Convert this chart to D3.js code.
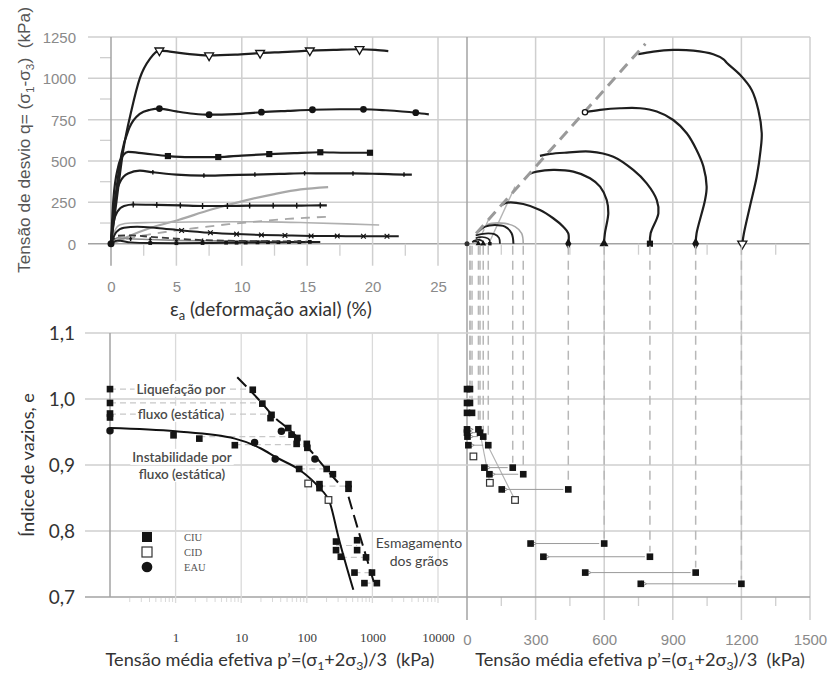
<!DOCTYPE html>
<html><head><meta charset="utf-8">
<script src="https://cdn.jsdelivr.net/npm/d3@7"></script>
<style>
body{margin:0;background:#fff}
svg{display:block;background:#fff}
text{white-space:pre}
</style></head><body>
<svg id="chart" width="831" height="674"></svg>
<script>
// ---------- axis ticks ----------
const strainTicks = [0, 5, 10, 15, 20, 25];
const strainMinor = [2.5, 7.5, 12.5, 17.5, 22.5];
const qTicks = [0, 250, 500, 750, 1000, 1250];
const qMinor = [125, 375, 625, 875, 1125];
const pTicks = [0, 300, 600, 900, 1200, 1500];
const pMinor = [150, 450, 750, 1050, 1350];
const eTicks = [0.7, 0.8, 0.9, 1.0, 1.1];
const logTicks = [1, 10, 100, 1000, 10000];

// ---------- stress–strain curves: [axial strain %, q kPa, marker flag] ----------
const curve1200 = [[0,0],[0.43,264],[0.94,567],[1.57,809],[2.2,1000],[3,1121],[3.7,1168,1],[4.5,1162],[6,1146],[7.5,1138,1],[9.5,1143],[11.4,1153,1],[13.5,1160],[15.2,1168,1],[17,1172],[19,1176,1],[20.2,1172],[21.2,1165]];
const curve1000 = [[0,0],[0.3,250],[0.8,540],[1.4,700],[2.2,785],[3,810],[3.7,817,1],[5,800],[6.3,786],[7.5,780,1],[9.5,784],[11.5,795,1],[13.5,803],[15.4,810,1],[17.5,813],[19.3,813,1],[21,807],[23.3,792,1],[24.3,782]];
const curve800 = [[0,0],[0.18,264],[0.55,466],[0.94,536],[1.3,555],[2.5,546],[4.35,530,1],[6,524],[8.2,524,1],[10,533],[12.1,542,1],[14,548],[16,553,1],[18,550],[19.8,550,1]];
const curve600 = [[0,0],[0.3,264],[0.7,375],[1.3,425],[2.2,442],[3.2,432,1],[5,418],[7.1,412,1],[9,415],[11,418,1],[13,422],[14.8,426,1],[16.5,425],[18.5,425,1],[20.5,422],[22.4,418,1],[23,418]];
const curve443 = [[0,0],[0.2,130],[0.5,195],[1,228],[1.7,237,1],[3.5,235,1],[5.3,232,1],[7,228,1],[8.9,228,1],[10.6,230,1],[12.4,230,1],[14.2,230,1],[16,232,1],[16.5,232]];
const curveCidA = [[0,0],[0.7,22],[1.5,50],[3,95],[5.2,145],[7.6,205],[10.3,262],[12.5,300],[14.5,328],[16.6,342]];
const curve246 = [[0,0],[0.3,80],[0.7,115],[1.5,125],[3,128],[5,130],[9,133],[12,132],[15,127],[18,120],[20.5,113]];
const curveCidB = [[0,0],[1,25],[2.5,50],[4.5,75],[6.5,95],[9,118],[11.6,137],[13.5,150],[15,157],[16.5,163]];
const curve200 = [[0,0],[0.4,70],[1,97],[2,103],[3.5,95],[5.4,80,1],[7.6,66,1],[9.6,58,1],[11.5,53,1],[13.3,50,1],[15.3,47,1],[17.3,46,1],[19.3,45,1],[21.1,45,1],[22,45]];
const curve144 = [[0,0],[0.5,48],[1.5,50],[3,42],[5,30],[7,22],[9,18],[12,15],[15,13]];
const curve71 = [[0,0],[0.5,20],[1.5,8],[3,4,1],[5,3,1],[7,4,1],[8.8,6,1],[9.6,6,1],[10.3,7,1],[11.2,8,1],[12,9,1],[12.8,9,1],[13.6,10,1],[14.4,10,1],[15.2,11,1],[16,11]];
const curve100 = [[0,0],[0.5,35],[1.5,30,1],[3,25,1],[5,20,1],[7,18,1],[9,17],[11,16],[12,16]];

// ---------- effective stress paths: [p' kPa, q kPa] ----------
const path1200 = [[1204,0],[1211,63],[1237,224],[1267,405],[1284,567],[1289,668],[1274,809],[1245,930],[1194,1021],[1138,1091],[1122,1115],[1077,1146],[990,1168],[902,1172],[815,1162],[749,1146]];
const path1000 = [[1000,0],[1004,63],[1041,264],[1048,345],[1034,466],[1004,567],[961,668],[902,748],[830,799],[757,819],[669,819],[582,809],[516,795]];
const path800 = [[800,0],[803,63],[837,184],[830,264],[786,365],[727,446],[640,526],[538,557],[436,551],[363,543],[319,531]];
const path600 = [[599,0],[603,63],[618,184],[611,264],[582,345],[538,396],[465,436],[377,446],[305,436],[272,422]];
const path443 = [[443,0],[443,63],[421,103],[377,154],[319,204],[246,240],[174,248],[152,234]];
const path246 = [[246,0],[239,63],[210,103],[166,123],[108,123],[86,113]];
const path200 = [[203,0],[195,63],[166,103],[122,113],[79,103],[50,73]];
const path144 = [[144,0],[140,35],[120,58],[93,63],[62,58],[38,50]];
const path100 = [[100,0],[97,25],[80,38],[58,40],[38,33]];
const path71 = [[71,0],[68,15],[55,23],[40,22],[26,15]];
const path50 = [[50,0],[46,10],[35,14],[22,10]];
const pathCidA = [[95,0],[210,345]];
const pathCidB = [[46,0],[100,163]];
const criticalLine = [[40,62],[780,1209]];

// ---------- void ratio vs p' (log axis) ----------
const ciuLog = [[0,1.015],[0,0.994],[0,0.978],[0,0.972],[15,1.014],[21,0.993],[29,0.976],[28,0.971],
  [0.93,0.945],[2.3,0.940],[8,0.930],[52,0.956],[58.5,0.946],[71.6,0.941],[70,0.932],[100,0.932],[102,0.926],
  [76.5,0.894],[201,0.894],[250,0.886],[156,0.871],[156,0.865],[432,0.871],[432,0.864],
  [279,0.784],[279,0.771],[330,0.761],[585,0.786],[585,0.771],[800,0.760],
  [533,0.737],[985,0.737],[756,0.721],[1170,0.721]];
const cidLog = [[105,0.872],[214,0.847]];
const eauLog = [[0,0.952],[16,0.934],[33,0.909],[41,0.951],[133,0.909]];
const logLinks = [[0,15,1.015],[0,21,0.994],[0,29,0.977],[2.3,58.5,0.943],[8,100,0.931],[76.5,201,0.894],[156,432,0.868],[279,585,0.778],[330,800,0.760],[533,985,0.737],[756,1170,0.721]];
const instabilityLine = [[0.1,0.956],[1,0.951],[8,0.940],[20,0.925],[35,0.911],[79,0.892],[150,0.867],[226,0.842],[303,0.791],[512,0.711]];
const crushingUpper = [[8.7,1.033],[21,0.993],[30,0.975],[52,0.955],[100,0.928],[200,0.893],[322,0.870]];
const crushingLower = [[432,0.852],[585,0.807],[800,0.762],[1100,0.716]];

// ---------- void ratio vs p' (linear axis): undrained tests, initial p0 -> final pf ----------
const ciuTests = [
  {p0:1200, pf:760, e:0.720}, {p0:1000, pf:517, e:0.737}, {p0:800, pf:334, e:0.761},
  {p0:600, pf:278, e:0.781}, {p0:443, pf:152, e:0.863}, {p0:246, pf:98, e:0.886},
  {p0:200, pf:76, e:0.896}, {p0:93, pf:6, e:0.930}, {p0:71, pf:2, e:0.943},
  {p0:57, pf:0, e:0.949}, {p0:50, pf:0, e:0.954}, {p0:22, pf:0, e:0.979},
  {p0:13, pf:0, e:0.994}, {p0:13, pf:0, e:1.015}];
const cidLin = [[28,0.913],[100,0.873],[210,0.847]];
const cidLinks = [[[71,0.943],[210,0.847]],[[57,0.949],[100,0.873]]];

// ---------- scales ----------
const xStrain = d3.scaleLinear().domain([0,25]).range([111,438]);
const yQ = d3.scaleLinear().domain([0,1250]).range([243.7,37]);
const xP = d3.scaleLinear().domain([0,1500]).range([467,810]);
const xLog = d3.scaleLog().domain([0.1,10000]).range([110,438]).clamp(true);
const yE = d3.scaleLinear().domain([0.7,1.1]).range([597,333]);

const svg = d3.select('#chart');
const defs = svg.append('defs');
defs.append('marker').attr('id','arr').attr('viewBox','0 0 10 10').attr('refX',1).attr('refY',5)
  .attr('markerWidth',7).attr('markerHeight',7).attr('orient','auto')
  .append('path').attr('d','M9,1L1,5L9,9').attr('fill','none').attr('stroke','#8a8a8a').attr('stroke-width',1.4);

const GRID = '#cfcfcf', AXIS = '#a3a3a3';
const grid = svg.append('g');
function hline(g, y, x1, x2, c, w){ return g.append('line').attr('x1',x1).attr('x2',x2).attr('y1',y).attr('y2',y).attr('stroke',c).attr('stroke-width',w); }
function vline(g, x, y1, y2, c, w){ return g.append('line').attr('x1',x).attr('x2',x).attr('y1',y1).attr('y2',y2).attr('stroke',c).attr('stroke-width',w); }

// top row grid
qTicks.forEach(q => hline(grid, yQ(q), 88, xP(1500), q===0?AXIS:GRID, 1.5));
qMinor.forEach(q => hline(grid, yQ(q), 100, xStrain(0), GRID, 1.3));
strainTicks.forEach(s => vline(grid, xStrain(s), yQ(1250), yQ(0)+22, s===0?AXIS:GRID, 1.5));
strainMinor.forEach(s => vline(grid, xStrain(s), yQ(0), yQ(0)+12, GRID, 1.3));
pTicks.forEach(p => vline(grid, xP(p), yQ(1250), yE(0.7)+23, p===0?AXIS:GRID, 1.5));
pMinor.forEach(p => { vline(grid, xP(p), yQ(0), yQ(0)+11, GRID, 1.3); vline(grid, xP(p), yE(0.7), yE(0.7)+9, GRID, 1.3); });
// bottom row grid
eTicks.forEach(e => hline(grid, yE(e), 85, xP(1500), e===0.7?AXIS:GRID, 1.5));
logTicks.forEach(p => vline(grid, xLog(p), yE(1.1), yE(0.7)+6, '#dadada', 1.3));
vline(grid, xLog(0.1), yE(1.1), yE(0.7), AXIS, 1.5);
[0.1,1,10,100,1000].forEach(d => [2,3,4,5,6,7,8,9].forEach(k => vline(grid, xLog(d*k), yE(0.7)+1, yE(0.7)+5, '#d8d8d8', 1)));

// ---------- tick labels ----------
const tickFont = 'Liberation Sans, Arial, sans-serif';
const plain = d3.format('d');
const yAxisQ = svg.append('g').attr('transform',`translate(${xStrain(0)-35},0)`)
  .call(d3.axisLeft(yQ).tickValues(qTicks).tickSize(0).tickPadding(0).tickFormat(plain));
const xAxisS = svg.append('g').attr('transform',`translate(0,287)`)
  .call(d3.axisBottom(xStrain).tickValues(strainTicks).tickSize(0).tickPadding(0).tickFormat(plain));
const xAxisP = svg.append('g').attr('transform',`translate(0,640)`)
  .call(d3.axisBottom(xP).tickValues(pTicks).tickSize(0).tickPadding(0).tickFormat(plain));
[yAxisQ, xAxisS, xAxisP].forEach(a => {
  a.select('.domain').remove();
  a.selectAll('text').attr('font-family',tickFont).attr('font-size',15).attr('fill','#8a8a8a');
});
xAxisS.selectAll('text').attr('y',0).attr('dy','0.36em');
xAxisP.selectAll('text').attr('y',0).attr('dy','0.36em');
yAxisQ.selectAll('text').attr('dy','0.36em');

const yAxisE = svg.append('g').attr('transform',`translate(75,0)`)
  .call(d3.axisLeft(yE).tickValues(eTicks).tickSize(0).tickPadding(0).tickFormat(d => d.toFixed(1).replace('.',',')));
yAxisE.select('.domain').remove();
yAxisE.selectAll('text').attr('font-family','Lato, sans-serif').attr('font-size',19).attr('fill','#333').attr('dy','0.36em');

const xAxisL = svg.append('g').attr('transform',`translate(0,637)`)
  .call(d3.axisBottom(xLog).tickValues(logTicks).tickSize(0).tickPadding(0).tickFormat(plain));
xAxisL.select('.domain').remove();
xAxisL.selectAll('text').attr('font-family','Liberation Serif, serif').attr('font-size',13).attr('fill','#3c3c3c').attr('y',0).attr('dy','0.36em');

// ---------- titles ----------
function rich(parts, attrs){
  const t = svg.append('text');
  Object.entries(attrs).forEach(([k,v]) => t.attr(k,v));
  let low = false;
  parts.forEach(([s,sub]) => {
    const ts = t.append('tspan').text(s);
    if (sub) { ts.attr('font-size','68%'); if(!low){ ts.attr('dy','0.3em'); low = true; } }
    else if (low) { ts.attr('dy','-0.204em'); low = false; }
  });
  return t;
}
function fit(t, w){
  const cur = t.node().getComputedTextLength();
  t.attr('font-size', parseFloat(t.attr('font-size')) * w / cur);
}
const sansT = 'Lato, Open Sans, sans-serif';
fit(rich([['Tensão de desvio q= (σ'],['1',1],['-σ'],['3',1],[')  (kPa)']],
  {'font-family':tickFont,'font-size':16,fill:'#555','text-anchor':'middle',transform:'translate(30,140) rotate(-90)'}), 266);
fit(rich([['ε'],['a',1],[' (deformação axial) (%)']],
  {'font-family':sansT,'font-size':17,fill:'#333','text-anchor':'middle',x:271,y:316}), 202);
fit(rich([['Índice de vazios, e']],
  {'font-family':sansT,'font-size':17,fill:'#333','text-anchor':'middle',transform:'translate(34,465) rotate(-90)'}), 144);
fit(rich([['Tensão média efetiva p’=(σ'],['1',1],['+2σ'],['3',1],[')/3  (kPa)']],
  {'font-family':sansT,'font-size':17,fill:'#333','text-anchor':'middle',x:270,y:666}), 329);
fit(rich([['Tensão média efetiva p’=(σ'],['1',1],['+2σ'],['3',1],[')/3  (kPa)']],
  {'font-family':sansT,'font-size':17,fill:'#333','text-anchor':'middle',x:640,y:666}), 330);

// ---------- symbols ----------
const tickSym = {draw(ctx,size){const h=Math.sqrt(size)/2; ctx.moveTo(0,-h); ctx.lineTo(0,h); ctx.moveTo(-h*0.6,0); ctx.lineTo(h*0.6,0);}};
const xSym = {draw(ctx,size){const h=Math.sqrt(size)/2; ctx.moveTo(-h,-h); ctx.lineTo(h,h); ctx.moveTo(-h,h); ctx.lineTo(h,-h);}};
function mark(g, type, x, y, size){
  const K = '#141414';
  const r = Math.sqrt(size/Math.PI), a = Math.sqrt(size);
  if (type==='triDown') return g.append('path').attr('d', d3.symbol().type(d3.symbolTriangle).size(size)()).attr('transform',`translate(${x},${y}) rotate(180)`).attr('fill','#fff').attr('stroke',K).attr('stroke-width',1.3);
  if (type==='dot') return g.append('circle').attr('cx',x).attr('cy',y).attr('r',r).attr('fill',K);
  if (type==='ring') return g.append('circle').attr('cx',x).attr('cy',y).attr('r',r).attr('fill','#fff').attr('stroke',K).attr('stroke-width',1.3);
  if (type==='square') return g.append('rect').attr('x',x-a/2).attr('y',y-a/2).attr('width',a).attr('height',a).attr('fill',K);
  if (type==='squareOpen') return g.append('rect').attr('x',x-a/2).attr('y',y-a/2).attr('width',a).attr('height',a).attr('fill','#fff').attr('stroke','#333').attr('stroke-width',1.2);
  if (type==='diamond') return g.append('path').attr('d', d3.symbol().type(d3.symbolDiamond).size(size)()).attr('transform',`translate(${x},${y})`).attr('fill',K);
  if (type==='tri') return g.append('path').attr('d', d3.symbol().type(d3.symbolTriangle).size(size)()).attr('transform',`translate(${x},${y})`).attr('fill',K);
  if (type==='plus') return g.append('path').attr('d', d3.symbol().type(tickSym).size(size)()).attr('transform',`translate(${x},${y})`).attr('fill','none').attr('stroke',K).attr('stroke-width',1.4);
  if (type==='times') return g.append('path').attr('d', d3.symbol().type(xSym).size(size)()).attr('transform',`translate(${x},${y})`).attr('fill','none').attr('stroke',K).attr('stroke-width',1.2);
}

// ---------- top-left: q vs axial strain ----------
const lineS = d3.line().x(d => xStrain(d[0])).y(d => yQ(d[1])).curve(d3.curveMonotoneX);
const strainSeries = [
  {d:curveCidA, c:'#a8a8a8', w:2.2},
  {d:curve246, c:'#b0b0b0', w:1.6},
  {d:curveCidB, c:'#a8a8a8', w:1.8, dash:'9,7'},
  {d:curve100, c:'#8c8c8c', w:1.6, m:'plus', s:22},
  {d:curve71, c:'#1e1e1e', w:2, m:'square', s:14},
  {d:curve144, c:'#3a3a3a', w:1.8, dash:'7,4'},
  {d:curve200, c:'#1e1e1e', w:2, m:'times', s:22},
  {d:curve443, c:'#1e1e1e', w:2.2, m:'plus', s:34},
  {d:curve600, c:'#1e1e1e', w:2.2, m:'plus', s:20},
  {d:curve800, c:'#1e1e1e', w:2.2, m:'square', s:38},
  {d:curve1000, c:'#1e1e1e', w:2.2, m:'dot', s:36},
  {d:curve1200, c:'#1e1e1e', w:2.2, m:'triDown', s:34}
];
const gS = svg.append('g');
strainSeries.forEach(sr => {
  gS.append('path').attr('d', lineS(sr.d)).attr('fill','none').attr('stroke',sr.c).attr('stroke-width',sr.w)
    .attr('stroke-dasharray', sr.dash || null).attr('stroke-linejoin','round');
  if (sr.m) sr.d.filter(p => p[2]).forEach(p => mark(gS, sr.m, xStrain(p[0]), yQ(p[1]), sr.s));
});
gS.append('circle').attr('cx',xStrain(0)).attr('cy',yQ(0)).attr('r',3.5).attr('fill','#141414');

// ---------- top-right: q vs p' ----------
const lineP = d3.line().x(d => xP(d[0])).y(d => yQ(d[1])).curve(d3.curveCatmullRom.alpha(0.5));
const gP = svg.append('g');
gP.append('path').attr('d', lineP(pathCidA)).attr('fill','none').attr('stroke','#b5b5b5').attr('stroke-width',1.4);
gP.append('path').attr('d', lineP(pathCidB)).attr('fill','none').attr('stroke','#b5b5b5').attr('stroke-width',1.4).attr('stroke-dasharray','6,4');
const stressPaths = [
  {d:path246, c:'#a8a8a8', w:1.6},
  {d:path50, c:'#1e1e1e', w:1.6, m:'tri', s:14},
  {d:path71, c:'#1e1e1e', w:1.6, m:'tri', s:16},
  {d:path100, c:'#1e1e1e', w:1.6, m:'square', s:12},
  {d:path144, c:'#1e1e1e', w:1.8},
  {d:path200, c:'#1e1e1e', w:2},
  {d:path443, c:'#1e1e1e', w:2.2, m:'diamond', s:34},
  {d:path600, c:'#1e1e1e', w:2.2, m:'tri', s:36},
  {d:path800, c:'#1e1e1e', w:2.2, m:'square', s:38},
  {d:path1000, c:'#1e1e1e', w:2.2, m:'diamond', s:42},
  {d:path1200, c:'#1e1e1e', w:2.2, m:'triDown', s:36}
];
stressPaths.forEach(sp => {
  gP.append('path').attr('d', lineP(sp.d)).attr('fill','none').attr('stroke',sp.c).attr('stroke-width',sp.w);
});
gP.append('path').attr('d', d3.line().x(d => xP(d[0])).y(d => yQ(d[1]))(criticalLine))
  .attr('fill','none').attr('stroke','#9a9a9a').attr('stroke-width',3).attr('stroke-dasharray','11,7');
stressPaths.forEach(sp => { if (sp.m) mark(gP, sp.m, xP(sp.d[0][0]), yQ(sp.d[0][1]), sp.s); });
mark(gP, 'ring', xP(path1000[path1000.length-1][0]), yQ(path1000[path1000.length-1][1]), 22);
gP.append('circle').attr('cx',xP(0)).attr('cy',yQ(0)).attr('r',2.5).attr('fill','#333');

// ---------- bottom-right: e vs p' (linear) ----------
const gL = svg.append('g');
ciuTests.forEach(t => vline(gL, xP(t.p0), yQ(0)+2, yE(t.e)-5, '#b8b8b8', 1.5).attr('stroke-dasharray','9,6'));
cidLinks.forEach(l => gL.append('line').attr('x1',xP(l[0][0])).attr('y1',yE(l[0][1])).attr('x2',xP(l[1][0])).attr('y2',yE(l[1][1])).attr('stroke','#b0b0b0').attr('stroke-width',1.1));
ciuTests.filter(t => t.p0 - t.pf > 25).forEach(t => {
  gL.append('line').attr('x1',xP(t.p0)-5).attr('x2',xP(t.pf)+6).attr('y1',yE(t.e)).attr('y2',yE(t.e))
    .attr('stroke','#9a9a9a').attr('stroke-width',1).attr('marker-end','url(#arr)');
});
ciuTests.forEach(t => { mark(gL,'square',xP(t.p0),yE(t.e),44); mark(gL,'square',xP(t.pf),yE(t.e),44); });
cidLin.forEach(p => mark(gL,'squareOpen',xP(p[0]),yE(p[1]),44));

// ---------- bottom-left: e vs p' (log) ----------
const gG = svg.append('g');
logLinks.forEach(l => gG.append('line').attr('x1',xLog(l[0])).attr('x2',xLog(l[1])).attr('y1',yE(l[2])).attr('y2',yE(l[2]))
  .attr('stroke','#c8c8c8').attr('stroke-width',1.2).attr('stroke-dasharray','6,4'));

// region labels on white backing
function label(lines, cx, ys, size, col){
  lines.forEach((s,i) => {
    const t = gG.append('text').text(s).attr('x',cx).attr('y',ys[i]).attr('text-anchor','middle').attr('dy','0.36em')
      .attr('font-family',sansT).attr('font-size',size).attr('font-weight',600).attr('fill',col);
    const b = t.node().getBBox();
    gG.insert('rect','text').attr('x',b.x-2).attr('y',b.y).attr('width',b.width+4).attr('height',b.height).attr('fill','#fff');
  });
}
label(['Liquefação por','fluxo (estática)'], 181, [389,414], 13.5, '#4a4a4a');
label(['Instabilidade por','fluxo (estática)'], 182, [457,474], 13.5, '#4a4a4a');

const lineL = d3.line().x(d => xLog(d[0])).y(d => yE(d[1])).curve(d3.curveMonotoneX);
gG.append('path').attr('d', lineL(instabilityLine)).attr('fill','none').attr('stroke','#111').attr('stroke-width',2);
gG.append('path').attr('d', lineL(crushingUpper)).attr('fill','none').attr('stroke','#111').attr('stroke-width',2).attr('stroke-dasharray','13,6');
gG.append('path').attr('d', lineL(crushingLower)).attr('fill','none').attr('stroke','#111').attr('stroke-width',2).attr('stroke-dasharray','13,6');
ciuLog.forEach(p => mark(gG,'square',xLog(p[0]),yE(p[1]),44));
cidLog.forEach(p => mark(gG,'squareOpen',xLog(p[0]),yE(p[1]),44));
eauLog.forEach(p => mark(gG,'dot',xLog(p[0]),yE(p[1]),44));

['Esmagamento','dos grãos'].forEach((s,i) => svg.append('text').text(s).attr('x',419).attr('y',[543,561][i]).attr('dy','0.36em')
  .attr('text-anchor','middle').attr('font-family',sansT).attr('font-size',14).attr('fill','#444'));

// legend
const legend = [['square','CIU'],['squareOpen','CID'],['dot','EAU']];
legend.forEach((l,i) => {
  const y = 537 + i*15;
  mark(svg, l[0], 147, y, l[0]==='dot'?90:100);
  svg.append('text').text(l[1]).attr('x',184).attr('y',y).attr('dy','0.36em')
    .attr('font-family','Liberation Serif, serif').attr('font-size',10.5).attr('fill','#555');
});
</script>
</body></html>
